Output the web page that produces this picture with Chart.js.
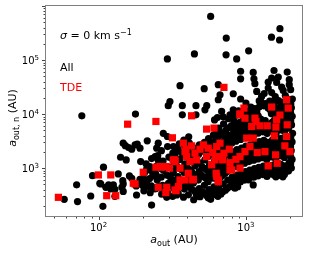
<!DOCTYPE html>
<html>
<head>
<meta charset="utf-8">
<script src="https://cdn.jsdelivr.net/npm/chart.js@4"></script>
<style>
  html, body { margin: 0; padding: 0; background: #fff; }
  #grafico { display: block; }
</style>
</head>
<body>
<canvas id="grafico" width="311" height="253"></canvas>
<script>
// Datos: [a_out (AU), a_out,n (AU)]
const puntosAll = [
  // puntos aislados arriba
  [576,640000],[1700,380000],[1490,265000],[1690,235000],[735,255000],[447,130000],[293,105000],[733,125000],[865,105000],[1043,148000],
  [920,62000],[920,45000],[1120,59000],[1133,45000],[1150,36500],[1550,64000],[1416,39000],[1494,46500],[1657,48500],[1615,38600],
  [1905,60000],[1967,43300],[2010,28300],[1967,35000],[1183,26300],[1277,21200],[1416,30300],[1494,25000],[1746,31600],[1790,27400],
  [357,33500],[521,29500],[649,35000],[820,23800],[667,22800],[649,18400],[920,19000],[305,17100],[297,14300],[370,14300],
  [370,9700],[458,14300],[458,9700],[542,14300],[527,12000],[820,12000],[779,9700],[684,11200],[77,9300],[178,10000],
  [612,7800],[640,8600],[700,8900],[760,8200],[1000,16000],[1080,13500],[1230,17500],[1330,24000],[1580,21000],[1850,22000],
  // zona baja izquierda
  [58.5,264],[72,240],[71,490],[88.5,305],[91,725],[103.5,509],[107,196],[108,1040],[112,442],[121,411],[129,405],[126,488],
  [136,780],[146,586],[147,509],[144,442],[162,717],[168,650],[181,318],[180,467],[191,509],[201,467],[214,453],[191,622],
  [200,650],[214,605],[229,207],[233,717],[241,804],[250,695],[261,1000],[278,900],[223,1070],[212,955],[233,442],[241,411],
  [255,453],[273,411],[290,442],[313,525],[290,288],[339,318],[330,400],[305,695],[321,827],[254,1420],[242,1630],[330,1760],
  [313,1520],[147,2900],[152,2600],[160,2400],[168,2240],[177,2700],[183,2780],[191,2340],[214,3200],[254,2900],[248,2340],
  [275,4400],[293,3850],[141,1590],[154,1420],[193,1320],[129,300],[147,370],[117,490],[102,520],
  // nube central y derecha
  [203,380],[208,560],[205,820],[210,1200],
  [224,350],[228,470],[222,640],[226,900],[229,1500],
  [246,420],[250,600],[244,780],[249,1100],[252,1700],
  [268,330],[272,480],[266,680],[271,950],[274,1350],[267,2100],
  [293,360],[298,520],[291,740],[296,1050],[300,1600],[294,2500],
  [318,300],[323,430],[316,610],[321,880],[325,1250],[319,1900],[322,2500],
  [338,540],[337,1120],[339,2320],
  [347,340],[352,480],[346,700],[351,1000],[355,1450],[348,2150],[353,2800],
  [367,450],[368,920],[366,1920],
  [377,290],[382,410],[376,580],[381,830],[385,1200],[378,1750],[383,2600],[379,3300],
  [397,520],[398,1070],[396,2220],
  [407,320],[412,450],[406,650],[411,940],[415,1350],[408,2000],[413,2900],[409,3800],
  [427,410],[428,850],[426,1760],
  [442,260],[447,380],[440,530],[446,760],[450,1100],[443,1600],[448,2350],
  [460,330],[458,680],[459,1400],[461,2020],
  [477,300],[482,420],[475,600],[481,860],[486,1250],[478,1800],[483,2700],
  [500,360],[498,740],[502,1070],[501,2220],
  [516,340],[522,480],[514,690],[521,990],[526,1420],[518,2050],[523,3000],
  [540,310],[538,640],[543,920],[541,1900],[537,2750],
  [556,280],[562,400],[554,560],[561,800],[566,1150],[558,1650],[563,2400],[557,3500],
  [580,340],[578,700],[582,1000],[581,2050],[579,2950],
  [600,320],[607,450],[598,650],[606,930],[611,1330],[602,1900],[608,2800],[601,4100],
  [625,370],[622,760],[627,1100],[626,2270],[621,3270],[629,4700],
  [645,300],[652,420],[643,600],[651,860],[657,1230],[647,1780],[654,2600],[646,3800],[655,5500],
  [675,330],[672,680],[677,980],[676,2000],[671,2900],[679,4150],
  [694,360],[702,510],[692,730],[701,1050],[707,1500],[696,2150],[704,3100],[695,4500],[705,6600],
  [725,390],[722,800],[727,1150],[726,2380],[721,3430],[729,4940],
  [744,420],[752,600],[742,860],[751,1230],[758,1780],[746,2550],[754,3700],[745,5400],
  [775,450],[772,930],[777,1340],[776,2780],[771,4000],[779,5760],
  [798,480],[807,680],[796,980],[806,1400],[813,2000],[800,2900],[809,4200],[799,6100],[811,8900],
  [830,570],[827,1180],[832,1700],[831,3500],[826,5100],[834,7300],[829,10500],
  [853,460],[862,740],[851,1060],[861,1520],[868,2200],[855,3150],[864,4550],[854,6600],[866,9600],
  [890,640],[887,1300],[892,1850],[891,3800],[886,5500],[889,11500],
  [917,560],[927,800],[915,1150],[926,1650],[934,2350],[920,3400],[929,4900],[918,7100],[931,10500],
  [955,700],[952,1420],[957,2050],[956,4250],[951,6100],[959,8800],
  [981,600],[992,860],[979,1230],[991,1770],[999,2550],[984,3650],[994,5300],[982,7700],[996,11200],
  [1025,760],[1022,1560],[1027,2250],[1026,4650],[1021,6700],[1029,9600],
  [1051,640],[1063,920],[1048,1320],[1062,1900],[1071,2700],[1054,3900],[1065,5600],[1052,8100],[1068,11800],
  [1100,820],[1097,1690],[1102,2430],[1101,5050],[1096,7250],[1104,10400],
  [1130,680],[1143,980],[1127,1400],[1142,2000],[1151,2900],[1134,4150],[1145,6000],[1131,8700],[1148,12600],
  [1180,860],[1177,1780],[1183,2560],[1182,5300],[1176,7650],[1185,11000],
  [1209,720],[1223,1030],[1206,1480],[1222,2150],[1232,3100],[1213,4450],[1225,6400],[1210,9300],[1228,13500],
  [1265,900],[1262,1870],[1268,2700],[1267,5600],[1261,8050],[1264,16800],
  [1298,760],[1313,1090],[1295,1560],[1312,2250],[1323,3250],[1302,4700],[1315,6800],[1318,14200],
  [1355,850],[1352,1760],[1358,2540],[1357,5270],[1351,7600],[1354,15700],
  [1388,700],[1404,1010],[1385,1450],[1403,2100],[1414,3000],[1392,4350],[1406,6300],[1409,13100],
  [1450,940],[1447,1950],[1453,2800],[1452,5830],[1455,12100],[1449,17400],
  [1487,780],[1504,1120],[1484,1620],[1503,2330],[1515,3350],[1491,4850],[1506,7000],[1488,10100],[1509,14600],
  [1555,850],[1552,1770],[1558,2550],[1557,5290],[1551,7610],[1560,10960],[1554,15800],
  [1596,690],[1614,990],[1592,1430],[1613,2060],[1626,2980],[1600,4300],[1616,6200],[1597,8900],[1620,12900],[1604,18600],
  [1665,960],[1662,1990],[1668,2870],[1667,5950],[1661,8570],[1670,12300],[1664,17800],
  [1705,820],[1724,1180],[1701,1700],[1723,2450],[1737,3550],[1710,5100],[1727,7400],[1706,10700],[1731,15400],
  [1780,900],[1777,1870],[1783,2700],[1782,5590],[1776,8050],[1785,11600],[1779,16700],
  [1824,760],[1845,1100],[1820,1580],[1844,2280],[1858,3300],[1829,4750],[1848,6850],[1825,9900],[1852,14300],
  [1900,1050],[1897,2180],[1903,3140],[1902,6510],[1896,9380],[1905,13500],[1899,19400],
  [1943,880],[1965,1270],[1938,1830],[1964,2640],[1979,3800],[1948,5500],[1968,7900],[1944,11400],[1972,16400],
  [2010,1200],[2007,2490],[2013,3590],[2012,7440],[2006,10700],[2015,15400],
  [2032,1000],[2056,1450],[2028,2100],[2055,3050],[2071,4400],[2038,6300],[2060,9100],[2034,13100],[2064,19000],
  // borde inferior
  [842,424],[879,454],[911,562],[1120,488],[1038,604],[576,265],[488,296],[518,351],[1640,725],[1640,1000],
  [1380,1070],[2010,1630],[2010,2180],[2010,3100],[1780,690],[1560,740]
];

const puntosTDE = [
  [53.4,288],[99.7,748],[121,748],[113.6,309],[130.8,309],[177,509],[201,839],[157.5,6500],[245,7300],[317,3640],
  [254,442],[286,352],[330,1320],[268,1040],[709,31200],[428,9300],[1888,18400],[1936,12900],[1494,13500],[969,12900],
  [911,9700],[1151,8400],[541,5270],[607,5500],[911,10100],[985,8400],[1094,5900],[1169,7300],[1245,6070],[1394,6070],
  [1597,5740],[1615,7800],[1700,9600],[1905,6330],[1556,3960],[1837,2580],[1987,2020],[1589,1760],[1416,1100],[1630,1230],
  [1345,2020],[1193,1940],[1064,2500],[985,2020],[911,1630],[855,1460],[800,927],[779,1260],[1120,3590],[1012,3590],
  [1888,3850],[376,2900],[392,2240],[428,2580],[451,1890],[488,2240],[514,2690],[555,2340],[595,1940],[633,2500],
  [667,2900],[659,1630],[709,1890],[771,2240],[695,1420],[617,1420],[541,1630],[585,1150],[649,604],[633,695],
  [440,622],[406,804],[357,1000],[330,1420],[302,1000],[290,442],[330,394],[357,604],[386,604],[463,1420],
  [417,1320],[911,1000],[779,930],[628,805],[649,560],[435,604],[348,455],[336,382],[286,1070],[261,1070],
  [245,1040],[321,1420],[396,1630],[386,2020],[172,525]
];

// Ejes
const rangoX = [44, 2400];
const rangoY = [130, 1.0e6];
const ticksX = [100, 1000];
const etiquetasX = ['10^2', '10^3'];
const ticksY = [1000, 10000, 100000];
const etiquetasY = ['10^3', '10^4', '10^5'];

const FUENTE = "'DejaVu Sans'";

// Dibuja un texto con partes de distinta fuente (subindices, superindices)
function anchoPartes(ctx, partes) {
    let total = 0;
    partes.forEach(p => { ctx.font = p.f; total += ctx.measureText(p.t).width; });
    return total;
}

function dibujarPartes(ctx, partes, x, y, alineacion) {
    const ancho = anchoPartes(ctx, partes);
    let cx = x;
    if (alineacion == 'center') cx = x - ancho / 2;
    if (alineacion == 'right') cx = x - ancho;
    ctx.textAlign = 'left';
    ctx.textBaseline = 'alphabetic';
    partes.forEach(p => {
        ctx.font = p.f;
        ctx.fillStyle = p.c || '#000';
        ctx.fillText(p.t, cx, y + (p.dy || 0));
        cx += ctx.measureText(p.t).width;
    });
}

function partesPotencia(etiqueta) {
    const [base, exp] = etiqueta.split('^');
    return [
        { t: base, f: `10px ${FUENTE}` },
        { t: exp, f: `7px ${FUENTE}`, dy: -4 }
    ];
}

function marcasLog(min, max) {
    const marcas = [];
    for (let e = Math.floor(Math.log10(min)); e <= Math.ceil(Math.log10(max)); e++) {
        for (let m = 1; m < 10; m++) {
            const v = m * Math.pow(10, e);
            if (v >= min && v <= max) marcas.push({ v, mayor: m == 1 });
        }
    }
    return marcas;
}

const decoraciones = {
    id: 'decoraciones',
    afterDraw(chart) {
        const { ctx, chartArea: a, scales } = chart;
        const ex = scales.x, ey = scales.y;
        ctx.save();

        // marcas de los ejes
        ctx.strokeStyle = '#444';
        ctx.lineWidth = 1;
        ctx.beginPath();
        marcasLog(rangoX[0], rangoX[1]).forEach(m => {
            const px = Math.round(ex.getPixelForValue(m.v)) + 0.5;
            ctx.moveTo(px, a.bottom);
            ctx.lineTo(px, a.bottom + (m.mayor ? 4 : 2.5));
        });
        marcasLog(rangoY[0], rangoY[1]).forEach(m => {
            const py = Math.round(ey.getPixelForValue(m.v)) + 0.5;
            ctx.moveTo(a.left, py);
            ctx.lineTo(a.left - (m.mayor ? 4 : 2.5), py);
        });
        ctx.stroke();

        // marco
        ctx.strokeStyle = '#808080';
        ctx.strokeRect(a.left - 0.5, a.top - 0.5, a.right - a.left + 1, a.bottom - a.top + 1);

        // etiquetas de los ticks
        ticksX.forEach((v, i) => {
            dibujarPartes(ctx, partesPotencia(etiquetasX[i]), ex.getPixelForValue(v), 231, 'center');
        });
        ticksY.forEach((v, i) => {
            dibujarPartes(ctx, partesPotencia(etiquetasY[i]), 39, ey.getPixelForValue(v) + 4, 'right');
        });

        // titulos de los ejes
        dibujarPartes(ctx, [
            { t: 'a', f: `italic 11px ${FUENTE}` },
            { t: 'out', f: `8px ${FUENTE}`, dy: 2.5 },
            { t: ' (AU)', f: `11px ${FUENTE}` }
        ], 174, 243, 'center');

        ctx.save();
        ctx.translate(16, 118);
        ctx.rotate(-Math.PI / 2);
        dibujarPartes(ctx, [
            { t: 'a', f: `italic 11px ${FUENTE}` },
            { t: 'out, n', f: `8px ${FUENTE}`, dy: 2.5 },
            { t: ' (AU)', f: `11px ${FUENTE}` }
        ], 0, 0, 'center');
        ctx.restore();

        // anotaciones
        dibujarPartes(ctx, [
            { t: 'σ', f: `italic 11px ${FUENTE}` },
            { t: ' = 0 km s', f: `11px ${FUENTE}` },
            { t: '−1', f: `8px ${FUENTE}`, dy: -4.5 }
        ], 60, 39, 'left');
        dibujarPartes(ctx, [{ t: 'All', f: `11px ${FUENTE}` }], 60, 70.5, 'left');
        dibujarPartes(ctx, [{ t: 'TDE', f: `11px ${FUENTE}`, c: '#ff0000' }], 60, 91, 'left');

        ctx.restore();
    }
};

function graficoDispersion() {
    const canvas = document.querySelector('#grafico');
    const contexto = canvas.getContext('2d');
    const aPuntos = lista => lista.map(([x, y]) => ({ x, y }));

    return new Chart(contexto, {
        type: 'scatter',
        data: {
            datasets: [{
                label: 'TDE',
                data: aPuntos(puntosTDE),
                pointStyle: 'rect',
                pointRadius: 5.1,
                backgroundColor: '#ff0000',
                borderWidth: 0,
                order: 0
            }, {
                label: 'All',
                data: aPuntos(puntosAll),
                pointStyle: 'circle',
                pointRadius: 3.6,
                backgroundColor: '#000000',
                borderWidth: 0,
                order: 1
            }]
        },
        options: {
            responsive: false,
            animation: false,
            events: [],
            layout: { padding: { top: 6, right: 9, left: 0, bottom: 0 } },
            plugins: {
                legend: { display: false },
                tooltip: { enabled: false }
            },
            scales: {
                x: {
                    type: 'logarithmic',
                    min: rangoX[0],
                    max: rangoX[1],
                    grid: { display: false },
                    border: { display: false },
                    ticks: { display: false },
                    afterFit: s => { s.height = 37; }
                },
                y: {
                    type: 'logarithmic',
                    min: rangoY[0],
                    max: rangoY[1],
                    grid: { display: false },
                    border: { display: false },
                    ticks: { display: false },
                    afterFit: s => { s.width = 46; }
                }
            }
        },
        plugins: [decoraciones]
    });
}

graficoDispersion();
</script>
</body>
</html>
